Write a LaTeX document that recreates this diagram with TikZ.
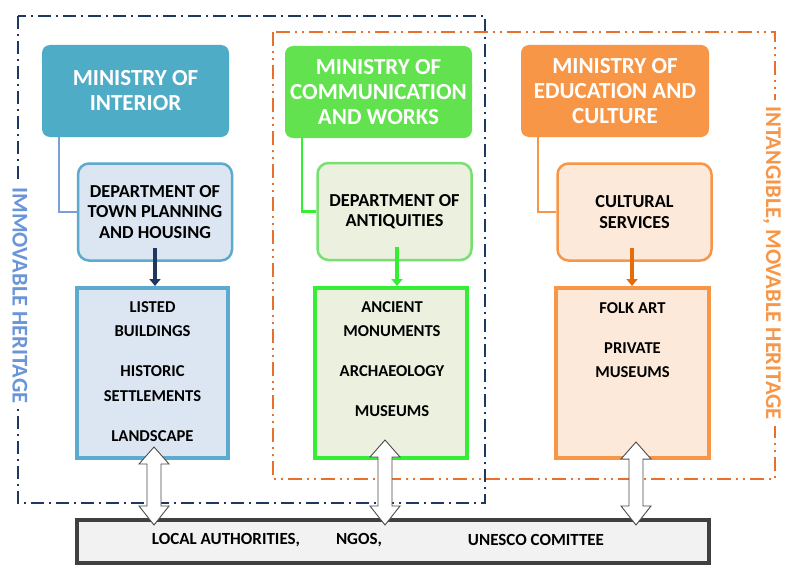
\documentclass[tikz,border=0pt]{standalone}
\usepackage{fontspec}
\setmainfont{Carlito}
\usetikzlibrary{positioning,calc,arrows.meta}

\definecolor{navyline}{RGB}{31,56,96}
\definecolor{orangeline}{RGB}{232,112,42}
\definecolor{teal}{RGB}{79,172,198}
\definecolor{tealpale}{RGB}{220,230,242}
\definecolor{tealedge}{RGB}{92,170,205}
\definecolor{bluewire}{RGB}{122,158,216}
\definecolor{greenfill}{RGB}{99,226,79}
\definecolor{greenpale}{RGB}{235,241,222}
\definecolor{greenedge}{RGB}{119,224,112}
\definecolor{greenwire}{RGB}{51,238,51}
\definecolor{orangefill}{RGB}{247,150,70}
\definecolor{orangepale}{RGB}{253,233,217}
\definecolor{orangedark}{RGB}{228,108,10}
\definecolor{greybox}{RGB}{242,242,242}
\definecolor{greyedge}{RGB}{64,64,64}
\definecolor{immovable}{RGB}{106,149,216}

\tikzset{
  ministry/.style={rounded corners=8pt, minimum width=187pt, minimum height=92pt,
    text=white, align=center, font=\fontsize{23}{25}\selectfont\bfseries},
  dept/.style={draw, rounded corners=11pt, line width=2.5pt, minimum width=154pt,
    minimum height=97pt, align=center, font=\fontsize{18.3}{20.5}\selectfont\bfseries},
  field/.style={draw, line width=4pt, minimum width=151pt, minimum height=170pt},
  fieldtext/.style={inner sep=0pt, align=center, font=\fontsize{16.6}{24.5}\selectfont\bfseries},
  partner/.style={font=\fontsize{17}{18}\selectfont\bfseries},
  branch/.style={line width=2.5pt},
  down/.style={line width=4pt, -{Triangle[width=11pt,length=7pt]}},
  sidelabel/.style={fill=white, rotate=-90, inner sep=6pt,
    font=\fontsize{22.5}{24}\selectfont\bfseries},
  frameA/.style={navyline, line width=2pt, dash pattern=on 13pt off 5pt on 2pt off 5pt},
  frameB/.style={orangeline, line width=2pt,
    dash pattern=on 14pt off 5pt on 2pt off 5pt on 2pt off 5pt},
  twoway/.style={draw=gray!60!black, fill=white, line width=0.9pt,
    to path={let \p1=(\tikztostart), \p2=(\tikztotarget) in
      -- ({\x1+15pt},{\y1-17pt}) -- ({\x1+7pt},{\y1-17pt})
      -- ({\x1+7pt},{\y2+12pt}) -- ({\x1+15pt},{\y2+12pt})
      -- (\x1,{\y2-7pt}) -- ({\x1-15pt},{\y2+12pt})
      -- ({\x1-7pt},{\y2+12pt}) -- ({\x1-7pt},{\y1-17pt})
      -- ({\x1-15pt},{\y1-17pt}) -- cycle}}
}

\begin{document}
\begin{tikzpicture}[x=1pt,y=-1pt]
  \useasboundingbox[fill=white] (0,0) rectangle (791,578);

  % the two heritage frames
  \draw[frameA] (18,16) rectangle (485,503);
  \draw[frameB] (273,32) rectangle (775,479);
  \node[sidelabel, text=immovable] (IH) at (20,295.5) {IMMOVABLE HERITAGE};
  \node[sidelabel, text=orangefill] (MH) at (772,263) {INTANGIBLE, MOVABLE HERITAGE};

  % ministries
  \node[ministry, fill=teal] (MI) at (135.5,91) {MINISTRY OF\\INTERIOR};
  \node[ministry, fill=greenfill] (MC) at (378.5,92) {MINISTRY OF\\COMMUNICATION\\AND WORKS};
  \node[ministry, fill=orangefill, minimum width=188pt] (ME) at (615,91) {MINISTRY OF\\EDUCATION AND\\CULTURE};

  % departments
  \node[dept, draw=tealedge, fill=tealpale] (TP) at (155,212) {DEPARTMENT OF\\TOWN PLANNING\\AND HOUSING};
  \node[dept, draw=greenedge, fill=greenpale] (DA) at (394.5,211.5) {DEPARTMENT OF\\ANTIQUITIES};
  \node[dept, draw=orangefill, fill=orangepale] (CS) at (634.5,212) {CULTURAL\\SERVICES};

  \draw[branch, bluewire, line width=1.5pt] ([xshift=17pt]MI.south west) |- (TP.west);
  \draw[branch, greenwire] ([xshift=17pt]MC.south west) |- (DA.west);
  \draw[branch, orangefill] ([xshift=17pt]ME.south west) |- (CS.west);

  % what each one looks after
  \node[field, draw=tealedge, fill=tealpale] (LB) at (152.5,373) {};
  \node[field, draw=greenwire, fill=greenpale, minimum width=152pt] (AM) at (391,373) {};
  \node[field, draw=orangefill, fill=orangepale, minimum width=153pt] (FA) at (632.5,373) {};

  \node[fieldtext, below=15pt of LB.north] (LBt) {LISTED\\BUILDINGS\\[15.5pt]HISTORIC\\SETTLEMENTS\\[15.5pt]LANDSCAPE};
  \node[fieldtext, below=15pt of AM.north, xshift=1pt] (AMt) {ANCIENT\\MONUMENTS\\[15.5pt]ARCHAEOLOGY\\[15pt]MUSEUMS};
  \node[fieldtext, below=16pt of FA.north] (FAt) {FOLK ART\\[15.5pt]PRIVATE\\MUSEUMS};

  \draw[down, navyline] ([yshift=14pt]TP.south) -- (TP.south |- LB.north);
  \draw[down, greenwire] ([yshift=14pt,xshift=2.5pt]DA.south) -- ([xshift=2.5pt]DA.south |- AM.north);
  \draw[down, orangedark] ([yshift=14pt,xshift=-2.5pt]CS.south) -- ([xshift=-2.5pt]CS.south |- FA.north);

  % partners
  \node[draw=greyedge, fill=greybox, line width=4pt, minimum width=632pt, minimum height=43pt] (LA) at (393,541.5) {};
  \node[partner] (LAa) at (226,540) {LOCAL AUTHORITIES,};
  \node[partner] (LAb) at (359,540) {NGOS,};
  \node[partner] (LAc) at (536,540) {UNESCO COMITTEE};

  \draw[twoway] ([xshift=1.5pt,yshift=13pt]LB.south) to (LA.north);
  \draw[twoway] ([xshift=-6pt,yshift=20pt]AM.south) to (LA.north);
  \draw[twoway] ([xshift=3.5pt,yshift=18pt]FA.south) to (LA.north);
\end{tikzpicture}
\end{document}
